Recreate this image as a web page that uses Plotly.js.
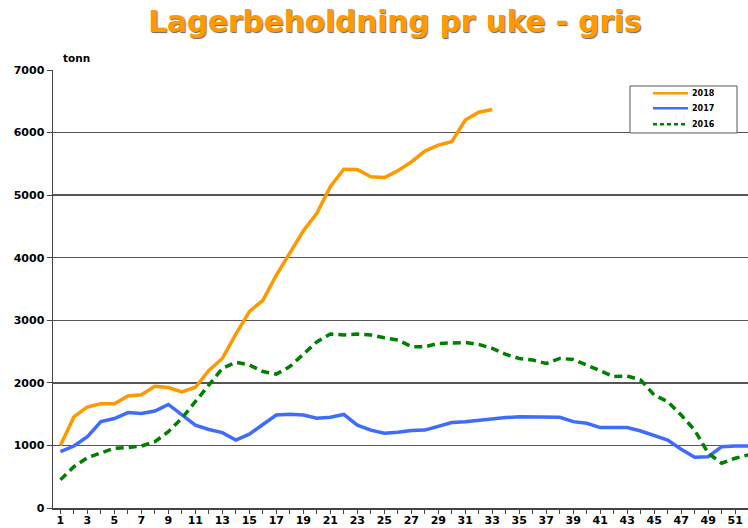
<!DOCTYPE html>
<html>
<head>
<meta charset="utf-8">
<script src="https://cdn.plot.ly/plotly-3.0.1.min.js"></script>
<style>html,body{margin:0;padding:0;background:#fff;}#chart{width:748px;height:528px;}</style>
</head>
<body>
<div id="chart"></div>
<script>
const weeks = [];
for (let i = 1; i <= 52; i++) weeks.push(i);

const y2018 = [1000,1455,1615,1665,1665,1790,1810,1945,1925,1855,1930,2200,2390,2780,3140,3320,3720,4070,4430,4710,5135,5415,5410,5295,5280,5390,5530,5705,5800,5855,6200,6325,6370];
const y2017 = [900,990,1140,1380,1430,1525,1510,1550,1655,1485,1325,1255,1205,1085,1180,1335,1485,1500,1485,1435,1450,1495,1325,1245,1195,1210,1240,1245,1300,1365,1380,1405,1425,1445,1460,1460,1460,1450,1380,1355,1285,1285,1285,1230,1150,1085,940,810,820,980,990,990];
const y2016 = [450,660,805,875,955,965,990,1060,1220,1435,1700,1965,2230,2330,2285,2180,2140,2260,2460,2655,2780,2765,2780,2765,2720,2685,2580,2575,2630,2640,2645,2615,2550,2455,2390,2365,2310,2390,2375,2285,2190,2100,2110,2045,1805,1700,1485,1245,875,715,795,850];

const seriesNames = ['2018','2017','2016'];
const titleText = 'Lagerbeholdning pr uke - gris';
const unitText = 'tonn';

const colors = ['#FF9900', '#3F6CFF', '#008000'];
const dashes = ['solid', 'solid', '8px,5px'];
const legendDashes = ['solid', 'solid', '4px,3px'];
const seriesData = [y2018, y2017, y2016];

const traces = seriesData.map((ys, i) => ({
  x: weeks.slice(0, ys.length), y: ys, name: seriesNames[i], type: 'scatter', mode: 'lines',
  line: {color: colors[i], width: 3.5, dash: dashes[i]}
}));

// custom legend (paper coordinates)
const lgX0 = 0.8302, lgX1 = 0.9842, lgY0 = 0.8562, lgY1 = 0.9635;
const lgLineX0 = 0.8633, lgLineX1 = 0.9137, lgTextX = 0.9165;
const lgRowY = [0.9468, 0.9126, 0.8760];

const shapes = [
  {type: 'rect', xref: 'paper', yref: 'paper', x0: lgX0, x1: lgX1, y0: lgY0, y1: lgY1,
   fillcolor: '#ffffff', line: {color: '#555', width: 1}, layer: 'above'}
];
const annotations = [
  {text: unitText, xref: 'paper', yref: 'paper', x: 0.012, y: 1.01, xanchor: 'left', yanchor: 'bottom',
   showarrow: false, font: {size: 10.5, weight: 'bold'}}
];
seriesNames.forEach((nm, i) => {
  shapes.push({type: 'line', xref: 'paper', yref: 'paper', x0: lgLineX0, x1: lgLineX1, y0: lgRowY[i], y1: lgRowY[i],
    line: {color: colors[i], width: 2.5, dash: legendDashes[i]}, layer: 'above'});
  annotations.push({text: nm, xref: 'paper', yref: 'paper', x: lgTextX, y: lgRowY[i], xanchor: 'left', yanchor: 'middle',
    showarrow: false, font: {size: 8, weight: 'bold'}});
});

const layout = {
  width: 748, height: 528,
  margin: {l: 53, r: 0, t: 70, b: 20, pad: 0},
  paper_bgcolor: '#ffffff', plot_bgcolor: '#ffffff',
  font: {family: 'DejaVu Sans, Verdana, sans-serif', color: '#000'},
  title: {text: titleText, x: 0.528, xanchor: 'center', y: 0.978, yanchor: 'top',
    font: {family: 'DejaVu Sans, Verdana, sans-serif', size: 29.5, color: '#FF9900', weight: 'bold',
      shadow: '1px 1px 1px #666'}},
  showlegend: false,
  xaxis: {range: [0.45, 51.95], tick0: 1, dtick: 2, tickmode: 'linear',
    ticks: 'outside', ticklen: 4, tickcolor: '#444', tickwidth: 1, ticklabelstandoff: -3,
    minor: {dtick: 1, tick0: 1, ticks: 'outside', ticklen: 4, tickcolor: '#444', tickwidth: 1},
    showgrid: false, zeroline: false, showline: true, linecolor: '#444', linewidth: 1.5,
    tickfont: {size: 11, weight: 'bold'}, fixedrange: true},
  yaxis: {range: [0, 7000], dtick: 1000, tick0: 0, tickmode: 'linear',
    ticks: 'outside', ticklen: 5, tickcolor: '#444', tickwidth: 1,
    showgrid: true, gridcolor: '#555', gridwidth: 1.5, zeroline: false,
    showline: true, linecolor: '#444', linewidth: 1.5,
    tickfont: {size: 11, weight: 'bold'}, fixedrange: true},
  shapes: shapes,
  annotations: annotations
};

Plotly.newPlot('chart', traces, layout, {displayModeBar: false, staticPlot: true});
</script>
</body>
</html>
